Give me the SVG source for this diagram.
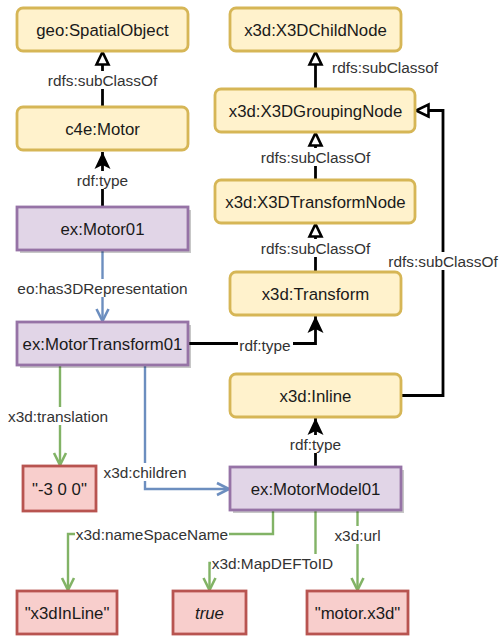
<svg xmlns="http://www.w3.org/2000/svg" width="500" height="637" viewBox="0 0 500 637">
<defs>
<style>
.cls{fill:#fff2cc;stroke:#d6b656;stroke-width:2.8}
.ind{fill:#e1d5e7;stroke:#9673a6;stroke-width:2.8}
.lit{fill:#f8cecc;stroke:#b85450;stroke-width:2.8}
.shadow{fill:#000;opacity:0.22}
.nt{font-family:"Liberation Sans",Arial,sans-serif;font-size:16.8px;fill:#1a1a1a;text-anchor:middle}
.et{font-family:"Liberation Sans",Arial,sans-serif;font-size:15.4px;fill:#333;text-anchor:middle}
.bg{fill:#fff}
.k{fill:none;stroke:#000;stroke-width:2.8}
.b{fill:none;stroke:#6c8ebf;stroke-width:2.4}
.g{fill:none;stroke:#82b366;stroke-width:2.4}
</style>
<marker id="tri" markerUnits="userSpaceOnUse" markerWidth="16" markerHeight="14" refX="14" refY="7" orient="auto" overflow="visible">
<path d="M1.5,1 L14,7 L1.5,13 Z" fill="#fff" stroke="#000" stroke-width="2.6"/>
</marker>
<marker id="cls" markerUnits="userSpaceOnUse" markerWidth="18" markerHeight="18" refX="17" refY="8" orient="auto" overflow="visible">
<path d="M0,0 L17,8 L0,16 L4,8 Z" fill="#000"/>
</marker>
<marker id="openB" markerUnits="userSpaceOnUse" markerWidth="14" markerHeight="14" refX="13" refY="7" orient="auto" overflow="visible">
<path d="M1,1 L13,7 L1,13" fill="none" stroke="#6c8ebf" stroke-width="2.6"/>
</marker>
<marker id="openG" markerUnits="userSpaceOnUse" markerWidth="14" markerHeight="14" refX="13" refY="7" orient="auto" overflow="visible">
<path d="M1,1 L13,7 L1,13" fill="none" stroke="#82b366" stroke-width="2.6"/>
</marker>
</defs>
<rect width="500" height="637" fill="#fff"/>

<g id="connectors">
<path class="k" d="M102.5,107 L102.5,52" marker-end="url(#tri)"/>
<rect class="bg" x="46" y="71" width="113" height="18"/>
<text class="et" x="102.5" y="85.5">rdfs:subClassOf</text>

<path class="k" d="M102.5,207 L102.5,152" marker-end="url(#cls)"/>
<rect class="bg" x="75" y="171" width="55" height="18"/>
<text class="et" x="102.5" y="185.5">rdf:type</text>

<path class="b" d="M102.5,250 L102.5,321" marker-end="url(#openB)"/>
<rect class="bg" x="16" y="279" width="173" height="18"/>
<text class="et" x="102.5" y="293.5">eo:has3DRepresentation</text>

<path class="k" d="M188,343.5 L315.5,343.5 L315.5,316" marker-end="url(#cls)"/>
<rect class="bg" x="238" y="336" width="55" height="18"/>
<text class="et" x="265" y="350.5">rdf:type</text>

<path class="k" d="M315.5,89 L315.5,52" marker-end="url(#tri)"/>
<text class="et" x="332" y="72.5" style="text-anchor:start">rdfs:subClassof</text>

<path class="k" d="M315.5,180 L315.5,133" marker-end="url(#tri)"/>
<rect class="bg" x="259" y="148" width="113" height="18"/>
<text class="et" x="315.5" y="162.5">rdfs:subClassOf</text>

<path class="k" d="M315.5,272 L315.5,224" marker-end="url(#tri)"/>
<rect class="bg" x="259" y="239" width="113" height="18"/>
<text class="et" x="315.5" y="253.5">rdfs:subClassOf</text>

<path class="k" d="M401,395.5 L443,395.5 L443,110.5 L416,110.5" marker-end="url(#tri)"/>
<rect class="bg" x="387" y="252" width="113" height="18"/>
<text class="et" x="443" y="266.5">rdfs:subClassOf</text>

<path class="k" d="M315.5,467 L315.5,418" marker-end="url(#cls)"/>
<rect class="bg" x="288" y="435" width="55" height="18"/>
<text class="et" x="315.5" y="449.5">rdf:type</text>

<path class="g" d="M60,365 L60,465" marker-end="url(#openG)"/>
<rect class="bg" x="8" y="407" width="103" height="18"/>
<text class="et" x="58" y="421.5">x3d:translation</text>

<path class="b" d="M145,365 L145,489 L229,489" marker-end="url(#openB)"/>
<rect class="bg" x="103" y="463" width="84" height="18"/>
<text class="et" x="145" y="477.5">x3d:children</text>

<path class="g" d="M273,510 L273,534 L68,534 L68,590" marker-end="url(#openG)"/>
<rect class="bg" x="75" y="525" width="154" height="18"/>
<text class="et" x="152" y="539.5">x3d:nameSpaceName</text>

<path class="g" d="M315.5,510 L315.5,563 L209.5,563 L209.5,590" marker-end="url(#openG)"/>
<rect class="bg" x="211" y="554" width="124" height="18"/>
<text class="et" x="272.5" y="568.5">x3d:MapDEFToID</text>

<path class="g" d="M357.5,510 L357.5,590" marker-end="url(#openG)"/>
<rect class="bg" x="334" y="526" width="47" height="18"/>
<text class="et" x="357.5" y="540.5">x3d:url</text>
</g>

<g id="geo-SpatialObject"><rect class="cls" x="17" y="8" width="171" height="43" rx="6"/><text class="nt" x="102.5" y="35.5">geo:SpatialObject</text></g>
<g id="c4e-Motor"><rect class="cls" x="17" y="107" width="171" height="43" rx="6"/><text class="nt" x="102.5" y="134.5">c4e:Motor</text></g>
<g id="ex-Motor01"><rect class="shadow" x="20" y="210" width="171" height="43"/><rect class="ind" x="17" y="207" width="171" height="43"/><text class="nt" x="102.5" y="234.5">ex:Motor01</text></g>
<g id="ex-MotorTransform01"><rect class="shadow" x="20" y="325" width="171" height="43"/><rect class="ind" x="17" y="322" width="171" height="43"/><text class="nt" x="102.5" y="349.5">ex:MotorTransform01</text></g>
<g id="x3d-X3DChildNode"><rect class="cls" x="230" y="8" width="171" height="43" rx="6"/><text class="nt" x="315.5" y="35.5">x3d:X3DChildNode</text></g>
<g id="x3d-X3DGroupingNode"><rect class="cls" x="215" y="89" width="200" height="43" rx="6"/><text class="nt" x="315.5" y="116.5">x3d:X3DGroupingNode</text></g>
<g id="x3d-X3DTransformNode"><rect class="cls" x="215" y="180" width="200" height="43" rx="6"/><text class="nt" x="315.5" y="207.5">x3d:X3DTransformNode</text></g>
<g id="x3d-Transform"><rect class="cls" x="230" y="272" width="171" height="43" rx="6"/><text class="nt" x="315.5" y="299.5">x3d:Transform</text></g>
<g id="x3d-Inline"><rect class="cls" x="230" y="374" width="171" height="43" rx="6"/><text class="nt" x="315.5" y="401.5">x3d:Inline</text></g>
<g id="ex-MotorModel01"><rect class="shadow" x="233" y="470" width="171" height="43"/><rect class="ind" x="230" y="467" width="171" height="43"/><text class="nt" x="315.5" y="494.5">ex:MotorModel01</text></g>
<g id="lit-translation"><rect class="lit" x="23" y="466" width="73" height="45"/><text class="nt" x="59.5" y="494.5">"-3 0 0"</text></g>
<g id="lit-x3dInLine"><rect class="lit" x="17" y="591" width="100" height="43"/><text class="nt" x="67" y="618.5">"x3dInLine"</text></g>
<g id="lit-true"><rect class="lit" x="173" y="591" width="73" height="43"/><text class="nt" x="209.5" y="618.5" font-style="italic">true</text></g>
<g id="lit-motor"><rect class="lit" x="307" y="591" width="101" height="43"/><text class="nt" x="357.5" y="618.5">"motor.x3d"</text></g>
</svg>
